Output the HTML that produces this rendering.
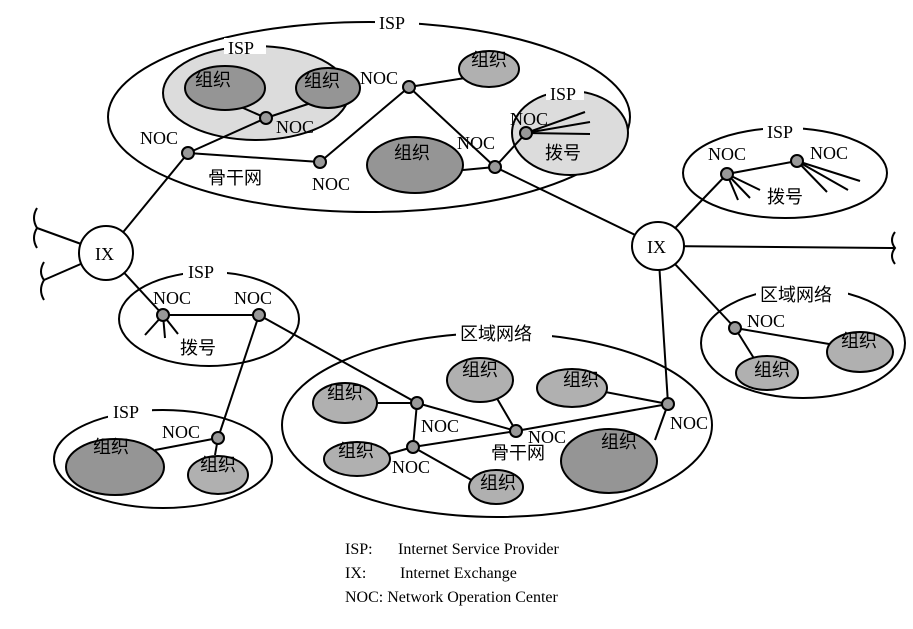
<!DOCTYPE html>
<html><head><meta charset="utf-8"><style>
html,body{margin:0;padding:0;background:#fff;}
svg{display:block;font-family:"Liberation Serif","Noto Serif CJK SC",serif;}
.t{font-size:18px;fill:#000;}
.c{font-size:18px;fill:#000;font-family:"Liberation Serif","Noto Sans CJK SC",sans-serif;}
.n{fill:#999;stroke:#000;stroke-width:2;}
.o{fill:#b0b0b0;stroke:#000;stroke-width:2;}
.od{fill:#959595;stroke:#000;stroke-width:2;}
.e{fill:none;stroke:#000;stroke-width:2;}
.l{stroke:#000;stroke-width:2;fill:none;}
.w{fill:#fff;}
</style></head><body>
<svg width="913" height="629" viewBox="0 0 913 629">
<ellipse class="e" cx="369" cy="117" rx="261" ry="95"/>
<ellipse cx="256" cy="93" rx="93" ry="47" fill="#dcdcdc" stroke="#000" stroke-width="2"/>
<ellipse cx="570" cy="133" rx="58" ry="42" fill="#dcdcdc" stroke="#000" stroke-width="2"/>
<g class="l">
<line x1="225" y1="100" x2="266" y2="118"/>
<line x1="320" y1="100" x2="266" y2="118"/>
<line x1="266" y1="118" x2="188" y2="153"/>
<line x1="188" y1="153" x2="320" y2="162"/>
<line x1="320" y1="162" x2="409" y2="87"/>
<line x1="409" y1="87" x2="465" y2="78"/>
<line x1="409" y1="87" x2="495" y2="167"/>
<line x1="463" y1="170" x2="495" y2="167"/>
<line x1="495" y1="167" x2="526" y2="133"/>
<line x1="526" y1="133" x2="585" y2="112"/>
<line x1="526" y1="133" x2="590" y2="122"/>
<line x1="526" y1="133" x2="590" y2="134"/>
<line x1="495" y1="167" x2="658" y2="246"/>
<line x1="188" y1="153" x2="106" y2="253"/>
<line x1="106" y1="253" x2="37" y2="228"/>
<line x1="106" y1="253" x2="44" y2="280"/>
<line x1="106" y1="253" x2="163" y2="315"/>
<line x1="163" y1="315" x2="259" y2="315"/>
<line x1="163" y1="315" x2="145" y2="335"/>
<line x1="163" y1="315" x2="165" y2="338"/>
<line x1="163" y1="315" x2="178" y2="334"/>
<line x1="259" y1="315" x2="218" y2="438"/>
<line x1="218" y1="438" x2="155" y2="450"/>
<line x1="218" y1="438" x2="215" y2="455"/>
<line x1="259" y1="315" x2="417" y2="403"/>
<line x1="658" y1="246" x2="727" y2="174"/>
<line x1="727" y1="174" x2="797" y2="161"/>
<line x1="727" y1="174" x2="738" y2="200"/>
<line x1="727" y1="174" x2="750" y2="198"/>
<line x1="727" y1="174" x2="760" y2="190"/>
<line x1="797" y1="161" x2="827" y2="192"/>
<line x1="797" y1="161" x2="848" y2="190"/>
<line x1="797" y1="161" x2="860" y2="181"/>
<line x1="658" y1="246" x2="895" y2="248"/>
<line x1="658" y1="246" x2="735" y2="328"/>
<line x1="735" y1="328" x2="835" y2="345"/>
<line x1="735" y1="328" x2="755" y2="360"/>
<line x1="658" y1="246" x2="668" y2="404"/>
<line x1="417" y1="403" x2="370" y2="403"/>
<line x1="417" y1="403" x2="413" y2="447"/>
<line x1="417" y1="403" x2="516" y2="431"/>
<line x1="413" y1="447" x2="516" y2="431"/>
<line x1="413" y1="447" x2="385" y2="455"/>
<line x1="413" y1="447" x2="475" y2="482"/>
<line x1="516" y1="431" x2="495" y2="395"/>
<line x1="516" y1="431" x2="668" y2="404"/>
<line x1="668" y1="404" x2="600" y2="391"/>
<line x1="668" y1="404" x2="655" y2="440"/>
<path d="M37 208 q-6 10 0 20 q-6 10 0 20"/>
<path d="M44 262 q-6 10 0 18 q-6 10 0 20"/>
<path d="M895 232 q-6 8 0 16 q-6 8 0 16"/>
</g>
<ellipse class="od" cx="225" cy="88" rx="40" ry="22"/>
<ellipse class="od" cx="328" cy="88" rx="32" ry="20"/>
<ellipse class="o" cx="489" cy="69" rx="30" ry="18"/>
<ellipse class="od" cx="415" cy="165" rx="48" ry="28"/>
<ellipse class="e" cx="106" cy="253" rx="27" ry="27" style="fill:#fff"/>
<ellipse class="e" cx="658" cy="246" rx="26" ry="24" style="fill:#fff"/>
<ellipse class="e" cx="209" cy="319" rx="90" ry="47"/>
<ellipse class="e" cx="163" cy="459" rx="109" ry="49"/>
<ellipse class="od" cx="115" cy="467" rx="49" ry="28"/>
<ellipse class="o" cx="218" cy="475" rx="30" ry="19"/>
<ellipse class="e" cx="785" cy="173" rx="102" ry="45"/>
<ellipse class="e" cx="803" cy="343" rx="102" ry="55"/>
<ellipse class="o" cx="767" cy="373" rx="31" ry="17"/>
<ellipse class="o" cx="860" cy="352" rx="33" ry="20"/>
<ellipse class="e" cx="497" cy="425" rx="215" ry="92"/>
<ellipse class="o" cx="345" cy="403" rx="32" ry="20"/>
<ellipse class="o" cx="480" cy="380" rx="33" ry="22"/>
<ellipse class="o" cx="572" cy="388" rx="35" ry="19"/>
<ellipse class="o" cx="357" cy="459" rx="33" ry="17"/>
<ellipse class="o" cx="496" cy="487" rx="27" ry="17"/>
<ellipse class="od" cx="609" cy="461" rx="48" ry="32"/>
<g class="n">
<circle cx="266" cy="118" r="6"/><circle cx="188" cy="153" r="6"/><circle cx="320" cy="162" r="6"/>
<circle cx="409" cy="87" r="6"/><circle cx="495" cy="167" r="6"/><circle cx="526" cy="133" r="6"/>
<circle cx="163" cy="315" r="6"/><circle cx="259" cy="315" r="6"/><circle cx="218" cy="438" r="6"/>
<circle cx="727" cy="174" r="6"/><circle cx="797" cy="161" r="6"/><circle cx="735" cy="328" r="6"/>
<circle cx="417" cy="403" r="6"/><circle cx="413" cy="447" r="6"/><circle cx="516" cy="431" r="6"/><circle cx="668" cy="404" r="6"/>
</g>
<g class="w">
<rect x="375" y="12" width="44" height="18"/><rect x="224" y="38" width="42" height="16"/>
<rect x="546" y="86" width="38" height="14"/><rect x="183" y="262" width="44" height="16"/>
<rect x="108" y="402" width="44" height="16"/><rect x="763" y="122" width="40" height="16"/>
<rect x="756" y="284" width="92" height="18"/><rect x="456" y="324" width="96" height="18"/>
</g>
<g class="t">
<text x="379" y="29">ISP</text><text x="228" y="54">ISP</text><text x="550" y="100">ISP</text>
<text x="188" y="278">ISP</text><text x="113" y="418">ISP</text><text x="767" y="138">ISP</text>
<text x="276" y="133">NOC</text><text x="140" y="144">NOC</text><text x="312" y="190">NOC</text>
<text x="360" y="84">NOC</text><text x="457" y="149">NOC</text><text x="510" y="125">NOC</text>
<text x="153" y="304">NOC</text><text x="234" y="304">NOC</text><text x="162" y="438">NOC</text>
<text x="708" y="160">NOC</text><text x="810" y="159">NOC</text><text x="747" y="327">NOC</text>
<text x="421" y="432">NOC</text><text x="392" y="473">NOC</text><text x="528" y="443">NOC</text><text x="670" y="429">NOC</text>
<text x="95" y="260">IX</text><text x="647" y="253">IX</text>
</g>
<g class="c">
<text x="195" y="86">组织</text><text x="304" y="87">组织</text><text x="471" y="66">组织</text><text x="394" y="159">组织</text>
<text x="545" y="159">拨号</text><text x="208" y="184">骨干网</text>
<text x="180" y="354">拨号</text><text x="93" y="453">组织</text><text x="200" y="471">组织</text>
<text x="767" y="203">拨号</text><text x="760" y="301">区域网络</text><text x="754" y="376">组织</text><text x="841" y="347">组织</text>
<text x="460" y="340">区域网络</text>
<text x="327" y="399">组织</text><text x="462" y="376">组织</text><text x="563" y="386">组织</text>
<text x="338" y="457">组织</text><text x="480" y="489">组织</text><text x="601" y="448">组织</text>
<text x="491" y="459">骨干网</text>
</g>
<g class="t" style="font-size:16px">
<text x="345" y="554">ISP:</text><text x="398" y="554">Internet Service Provider</text>
<text x="345" y="578">IX:</text><text x="400" y="578">Internet Exchange</text>
<text x="345" y="602">NOC: Network Operation Center</text>
</g>
</svg>
</body></html>
